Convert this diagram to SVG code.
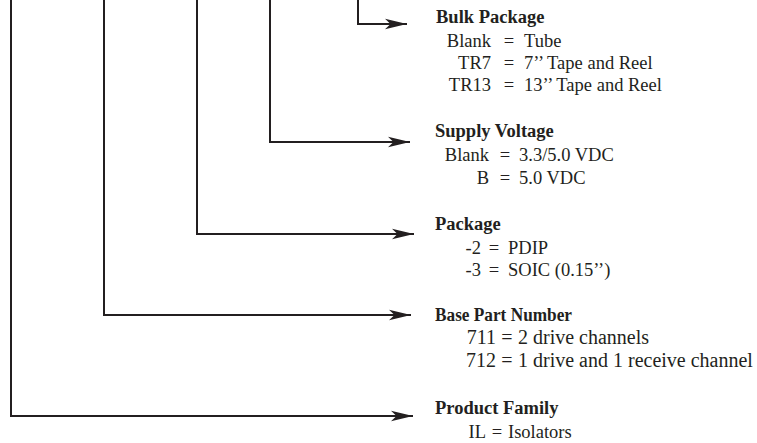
<svg xmlns="http://www.w3.org/2000/svg" width="757" height="443" viewBox="0 0 757 443">
<style>
.t{font-family:"Liberation Serif","Times New Roman",serif;font-size:18.5px;fill:#231f20}
.b{font-weight:bold}
.e{text-anchor:end}
.m{text-anchor:middle}
.w{font-size:20px}
.ln{fill:none;stroke:#231f20;stroke-width:2}
</style>
<defs>
<marker id="ah" markerUnits="userSpaceOnUse" markerWidth="24" markerHeight="14" refX="22" refY="7" orient="auto">
<path d="M22,7 L0,1.8 L5.5,7 L0,12.2 Z" fill="#231f20"/>
</marker>
</defs>
<rect width="757" height="443" fill="#fff"/>
<g id="connectors">
<path class="ln" d="M11,0 V416 H413" marker-end="url(#ah)"/>
<path class="ln" d="M104,0 V315 H411" marker-end="url(#ah)"/>
<path class="ln" d="M197,0 V234 H414" marker-end="url(#ah)"/>
<path class="ln" d="M270,0 V142 H410" marker-end="url(#ah)"/>
<path class="ln" d="M358,0 V24 H407" marker-end="url(#ah)"/>
</g>
<g id="bulk-package" class="t">
<text class="t b" x="436" y="23">Bulk Package</text>
<text class="t e" x="491" y="47">Blank</text><text class="t m" x="509" y="47">=</text><text class="t" x="524" y="47">Tube</text>
<text class="t e" x="491" y="69">TR7</text><text class="t m" x="509" y="69">=</text><text class="t" x="524" y="69">7’’ Tape and Reel</text>
<text class="t e" x="491" y="91">TR13</text><text class="t m" x="509" y="91">=</text><text class="t" x="524" y="91">13’’ Tape and Reel</text>
</g>
<g id="supply-voltage" class="t">
<text class="t b" x="435" y="137">Supply Voltage</text>
<text class="t e" x="489" y="161">Blank</text><text class="t m" x="505" y="161">=</text><text class="t" x="519" y="161">3.3/5.0 VDC</text>
<text class="t e" x="489" y="184">B</text><text class="t m" x="505" y="184">=</text><text class="t" x="519" y="184">5.0 VDC</text>
</g>
<g id="package" class="t">
<text class="t b" x="435" y="230">Package</text>
<text class="t e" x="481" y="254">-2</text><text class="t m" x="494" y="254">=</text><text class="t" x="508" y="254">PDIP</text>
<text class="t e" x="481" y="276">-3</text><text class="t m" x="494" y="276">=</text><text class="t" x="508" y="276">SOIC (0.15’’)</text>
</g>
<g id="base-part-number" class="t">
<text class="t b" x="435" y="321" textLength="137" lengthAdjust="spacingAndGlyphs">Base Part Number</text>
<text class="t w e" x="496" y="344">711</text><text class="t w m" x="507" y="344">=</text><text class="t w" x="518" y="344">2 drive channels</text>
<text class="t w e" x="496" y="367">712</text><text class="t w m" x="507" y="367">=</text><text class="t w" x="518" y="367">1 drive and 1 receive channel</text>
</g>
<g id="product-family" class="t">
<text class="t b" x="435" y="414">Product Family</text>
<text class="t e" x="486" y="438">IL</text><text class="t m" x="497" y="438">=</text><text class="t" x="508" y="438">Isolators</text>
</g>
</svg>
